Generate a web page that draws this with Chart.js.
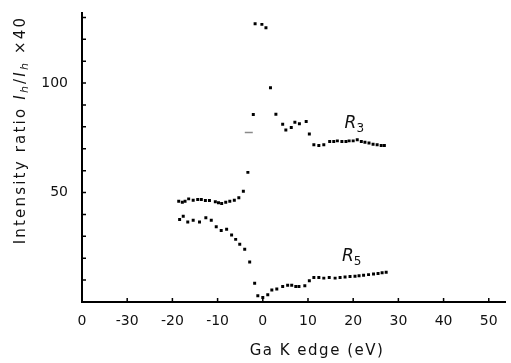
<!DOCTYPE html>
<html>
<head>
<meta charset="utf-8">
<script src="https://cdn.jsdelivr.net/npm/chart.js@4.4.1/dist/chart.umd.min.js"></script>
<style>
  html, body { margin: 0; padding: 0; background: #fff; }
</style>
</head>
<body>
<canvas id="edgeChart" width="511" height="363"></canvas>
<script>
// Intensity ratios R3 and R5 measured across the Ga K absorption edge

const r3Energy = [-18.6, -17.8, -17.2, -16.4, -15.4, -14.4, -13.6, -12.7, -11.8, -10.5, -9.8, -9.1,
                  -8.2, -7.3, -6.3, -5.3, -4.3, -3.3, -2.1, -1.7, -0.2, 0.7, 1.7, 2.9, 4.4, 5.1,
                  6.3, 7.1, 8.1, 9.6, 10.3, 11.3, 12.4, 13.5, 14.8, 15.7, 16.5, 17.5, 18.4, 19.1,
                  20.0, 20.9, 21.8, 22.6, 23.5, 24.4, 25.3, 26.2, 26.9];
const r3Ratio = [46.0, 45.6, 46.0, 47.1, 46.5, 46.8, 46.8, 46.4, 46.4, 45.8, 45.3, 45.0,
                 45.6, 46.0, 46.5, 47.6, 50.6, 59.2, 85.6, 127.1, 126.8, 125.3, 97.9, 85.8, 81.2, 78.6,
                 79.7, 82.1, 81.4, 82.4, 76.7, 71.8, 71.5, 71.8, 73.3, 73.3, 73.6, 73.3, 73.3, 73.6,
                 73.6, 74.1, 73.3, 73.0, 72.6, 72.1, 71.8, 71.5, 71.5];

const r5Energy = [-18.4, -17.6, -16.6, -15.4, -14.0, -12.6, -11.4, -10.3, -9.2, -8.0, -6.9, -6.0,
                  -5.1, -4.0, -2.9, -1.8, -1.1, 0.0, 1.1, 2.0, 3.1, 4.4, 5.5, 6.4, 7.3, 8.0,
                  9.3, 10.3, 11.3, 12.4, 13.5, 14.7, 16.0, 17.1, 18.2, 19.3, 20.4, 21.3, 22.3,
                  23.4, 24.5, 25.5, 26.4, 27.3];
const r5Ratio = [37.7, 39.2, 36.5, 37.3, 36.5, 38.5, 37.3, 34.4, 32.7, 33.2, 30.6, 28.6,
                 26.4, 24.1, 18.3, 8.6, 2.9, 2.1, 3.3, 5.5, 5.9, 7.1, 7.7, 7.7, 7.1, 7.1,
                 7.4, 9.7, 11.2, 11.2, 10.9, 11.2, 10.9, 11.2, 11.4, 11.6, 11.8, 12.0, 12.2,
                 12.5, 12.8, 13.0, 13.4, 13.6];

// single grey dash left of the edge
const markEnergy = [-3.1];
const markRatio = [77.4];

const xTickValues = [-40, -30, -20, -10, 0, 10, 20, 30, 40, 50];
const xTickLabels = ['0', '-30', '-20', '-10', '0', '10', '20', '30', '40', '50'];
const yTickValues = [0, 10, 20, 30, 40, 50, 60, 70, 80, 90, 100, 110, 120, 130];
const yLabelled = [50, 100];

const seriesNames = ['R', 'R'];
const seriesSubs = ['3', '5'];
// where each series name sits, in data units (energy, ratio at baseline)
const nameEnergy = [18.1, 17.5];
const nameRatio = [79.5, 18.6];

const toPoints = (xs, ys) => xs.map((x, i) => ({ x: x, y: ys[i] }));

const FONT = '"DejaVu Sans", sans-serif';

// small tick marks pointing into the plot
const innerTicks = {
  id: 'innerTicks',
  afterDraw(chart) {
    const { ctx, chartArea, scales } = chart;
    ctx.save();
    ctx.strokeStyle = '#000';
    ctx.lineWidth = 1.5;
    ctx.beginPath();
    xTickValues.forEach(v => {
      const px = scales.x.getPixelForValue(v);
      ctx.moveTo(px, chartArea.bottom);
      ctx.lineTo(px, chartArea.bottom - 4);
    });
    yTickValues.forEach(v => {
      const py = scales.y.getPixelForValue(v);
      ctx.moveTo(chartArea.left, py);
      ctx.lineTo(chartArea.left + 4, py);
    });
    ctx.stroke();
    ctx.restore();
  }
};

// axis titles and series names, which need italics and subscripts
const annotations = {
  id: 'annotations',
  afterDraw(chart) {
    const { ctx, scales } = chart;
    ctx.save();
    ctx.fillStyle = '#111';
    ctx.textBaseline = 'alphabetic';

    // series names
    seriesNames.forEach((name, i) => {
      const px = scales.x.getPixelForValue(nameEnergy[i]);
      const py = scales.y.getPixelForValue(nameRatio[i]);
      ctx.font = 'italic 17px ' + FONT;
      ctx.textAlign = 'left';
      ctx.fillText(name, px, py);
      const w = ctx.measureText(name).width;
      ctx.font = '12px ' + FONT;
      ctx.fillText(seriesSubs[i], px + w, py + 4);
    });

    // x title
    ctx.font = '15px ' + FONT;
    ctx.letterSpacing = '1.5px';
    ctx.textAlign = 'center';
    ctx.fillText('Ga K edge (eV)', 317, 355);

    // y title, drawn rotated in pieces
    const parts = [
      { t: 'Intensity ratio ', f: '15px ' + FONT, dy: 0 },
      { t: 'I', f: 'italic 15px ' + FONT, dy: 0 },
      { t: 'h', f: 'italic 11px ' + FONT, dy: 3 },
      { t: '/', f: '15px ' + FONT, dy: 0 },
      { t: 'I', f: 'italic 15px ' + FONT, dy: 0 },
      { t: 'h', f: 'italic 11px ' + FONT, dy: 3 },
      { t: ' \u00d740', f: '15px ' + FONT, dy: 0 }
    ];
    ctx.letterSpacing = '2.2px';
    let total = 0;
    parts.forEach(p => { ctx.font = p.f; p.w = ctx.measureText(p.t).width; total += p.w; });
    ctx.translate(25, 130);
    ctx.rotate(-Math.PI / 2);
    ctx.textAlign = 'left';
    let cx = -total / 2;
    parts.forEach(p => {
      ctx.font = p.f;
      ctx.fillText(p.t, cx, p.dy);
      cx += p.w;
    });
    ctx.restore();
  }
};

new Chart(document.getElementById('edgeChart').getContext('2d'), {
  type: 'scatter',
  data: {
    datasets: [
      {
        label: 'R3',
        data: toPoints(r3Energy, r3Ratio),
        pointStyle: 'rect',
        pointRadius: 2.1,
        pointBorderWidth: 0,
        backgroundColor: '#000'
      },
      {
        label: 'R5',
        data: toPoints(r5Energy, r5Ratio),
        pointStyle: 'rect',
        pointRadius: 2.1,
        pointBorderWidth: 0,
        backgroundColor: '#000'
      },
      {
        label: 'mark',
        data: toPoints(markEnergy, markRatio),
        pointStyle: 'line',
        pointRadius: 4,
        pointBorderWidth: 1.5,
        borderColor: '#8a8a8a',
        backgroundColor: '#8a8a8a'
      }
    ]
  },
  options: {
    responsive: false,
    animation: false,
    layout: { padding: { top: 13, right: 0, left: 0, bottom: 0 } },
    plugins: {
      legend: { display: false },
      tooltip: { enabled: false }
    },
    scales: {
      x: {
        type: 'linear',
        min: -40,
        max: 53.7,
        afterBuildTicks: s => { s.ticks = xTickValues.map(v => ({ value: v })); },
        afterFit: s => { s.height = 61; s.paddingLeft = 0; s.paddingRight = 0; },
        grid: { display: false, drawTicks: false },
        border: { display: true, color: '#000', width: 2 },
        ticks: {
          padding: 11,
          color: '#111',
          font: { family: FONT, size: 14 },
          maxRotation: 0,
          autoSkip: false,
          callback: v => xTickLabels[xTickValues.indexOf(v)]
        }
      },
      y: {
        min: 0,
        max: 132,
        afterBuildTicks: s => { s.ticks = yTickValues.map(v => ({ value: v })); },
        afterFit: s => { s.width = 82; s.paddingTop = 0; s.paddingBottom = 0; },
        grid: { display: false, drawTicks: false },
        border: { display: true, color: '#000', width: 2 },
        ticks: {
          padding: 14,
          color: '#111',
          font: { family: FONT, size: 14 },
          autoSkip: false,
          callback: v => (yLabelled.includes(v) ? String(v) : '')
        }
      }
    }
  },
  plugins: [innerTicks, annotations]
});
</script>
</body>
</html>
